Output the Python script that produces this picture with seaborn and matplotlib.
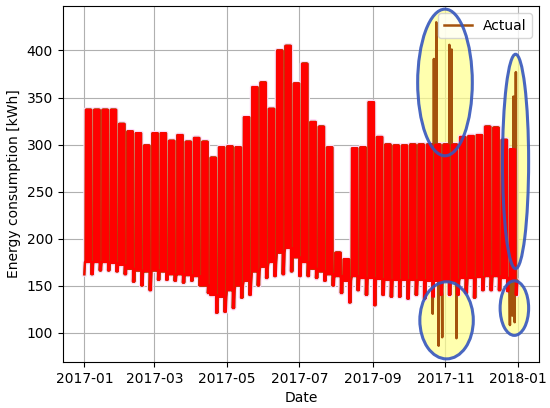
import matplotlib

matplotlib.use("Agg")
import matplotlib.dates as mdates
import matplotlib.pyplot as plt
import pandas as pd
import seaborn as sns
from matplotlib.patches import Ellipse

# Weekly levels (one entry per Monday-Sunday week of 2017), kWh
WEEK_PEAK = [
    337, 337, 337, 337, 322, 314, 312, 299, 312, 312,
    304, 310, 303, 307, 303, 286, 297, 298, 297, 329,
    361, 366, 338, 400, 405, 365, 386, 324, 319, 297,
    185, 178, 296, 297, 345, 308, 300, 299, 299, 300,
    300, 300, 300, 300, 300, 308, 309, 310, 319, 318,
    305, 295,
]
WEEK_BASE = [
    175, 175, 175, 174, 172, 168, 166, 165, 166, 165,
    162, 162, 161, 160, 150, 140, 138, 145, 150, 155,
    165, 170, 175, 185, 190, 180, 175, 168, 165, 162,
    160, 155, 160, 158, 158, 157, 156, 156, 156, 156,
    156, 155, 155, 155, 155, 158, 158, 159, 160, 160,
    158, 155,
]
WEEK_LOW = [
    162, 166, 166, 165, 162, 154, 150, 145, 156, 156,
    155, 153, 155, 150, 142, 121, 122, 126, 137, 140,
    150, 158, 160, 162, 165, 160, 160, 158, 155, 150,
    142, 132, 145, 140, 129, 140, 138, 138, 136, 140,
    136, 138, 140, 140, 140, 142, 137, 145, 145, 145,
    144, 140,
]

# Daily profile: hour of day and which weekly level it takes
WORKDAY_PROFILE = [(0, "base"), (7, "peak"), (19, "peak")]
WEEKEND_PROFILE = [(0, "low"), (12, "base")]

# Measured values that break away from the usual pattern
ANOMALY_TIMES = [
    "2017-10-21 06:00", "2017-10-22 06:00", "2017-10-24 06:00", "2017-10-26 06:00",
    "2017-10-29 06:00", "2017-11-04 06:00", "2017-11-06 06:00", "2017-11-10 06:00",
    "2017-12-25 06:00", "2017-12-27 06:00", "2017-12-28 06:00", "2017-12-29 06:00",
    "2017-12-30 06:00",
]
ANOMALY_VALUES = [120, 391, 430, 86, 95, 406, 401, 94, 108, 118, 351, 111, 377]


def build_expected() -> pd.DataFrame:
    rows = []
    for day in pd.date_range("2017-01-01", "2017-12-31", freq="D"):
        week = max((day.dayofyear - 2) // 7, 0)
        levels = {"peak": WEEK_PEAK[week], "base": WEEK_BASE[week], "low": WEEK_LOW[week]}
        profile = WORKDAY_PROFILE if day.dayofweek < 5 else WEEKEND_PROFILE
        for hour, level in profile:
            rows.append((day + pd.Timedelta(hours=hour), levels[level]))
    return pd.DataFrame(rows, columns=["Date", "kWh"])


def build_actual(expected: pd.DataFrame) -> pd.DataFrame:
    anomalies = pd.DataFrame({"Date": pd.to_datetime(ANOMALY_TIMES), "kWh": ANOMALY_VALUES})
    return pd.concat([expected, anomalies]).sort_values("Date").reset_index(drop=True)


def main() -> None:
    expected = build_expected()
    actual = build_actual(expected)

    fig, ax = plt.subplots(figsize=(5.5, 4.08), dpi=100)
    fig.subplots_adjust(left=0.114, right=0.98, top=0.985, bottom=0.113)

    sns.lineplot(data=expected, x="Date", y="kWh", color="#ffdaf8", linewidth=3.5,
                 estimator=None, sort=False, ax=ax, zorder=2)
    sns.lineplot(data=actual, x="Date", y="kWh", color="#a4520c", linewidth=1.8,
                 estimator=None, sort=False, ax=ax, label="Actual", zorder=3)
    sns.lineplot(data=expected, x="Date", y="kWh", color="#ff0000", linewidth=1.3,
                 estimator=None, sort=False, ax=ax, zorder=4)

    ax.grid(True, color="#b0b0b0", linewidth=0.8)
    ax.set_axisbelow(True)
    ax.set_xlabel("Date")
    ax.set_ylabel("Energy consumption [kWh]")
    ax.xaxis.set_major_locator(mdates.MonthLocator(bymonth=[1, 3, 5, 7, 9, 11]))
    ax.xaxis.set_major_formatter(mdates.DateFormatter("%Y-%m"))
    ax.legend(loc="upper right")

    # freeze the limits so the highlight shapes do not widen them
    ax.set_xlim(ax.get_xlim())
    ax.set_ylim(ax.get_ylim())

    # highlighted anomalies: centre date, centre value, width (days), height (kWh)
    highlights = [
        ("2017-10-31 14:00", 366, 46, 156),
        ("2017-11-01 22:00", 113, 45, 82),
        ("2017-12-30 00:00", 282, 22, 228),
        ("2017-12-29 00:00", 126, 24, 58),
    ]
    for centre, value, width, height in highlights:
        xc = mdates.date2num(pd.Timestamp(centre))
        ax.add_patch(Ellipse((xc, value), width, height, facecolor="#ffff8c", alpha=0.7,
                             edgecolor="none", zorder=1.5))
        ax.add_patch(Ellipse((xc, value), width, height, facecolor="none",
                             edgecolor="#3556bd", linewidth=2.2, alpha=0.9, zorder=7))

    fig.savefig("out.png", dpi=100)
    plt.close(fig)


if __name__ == "__main__":
    main()
